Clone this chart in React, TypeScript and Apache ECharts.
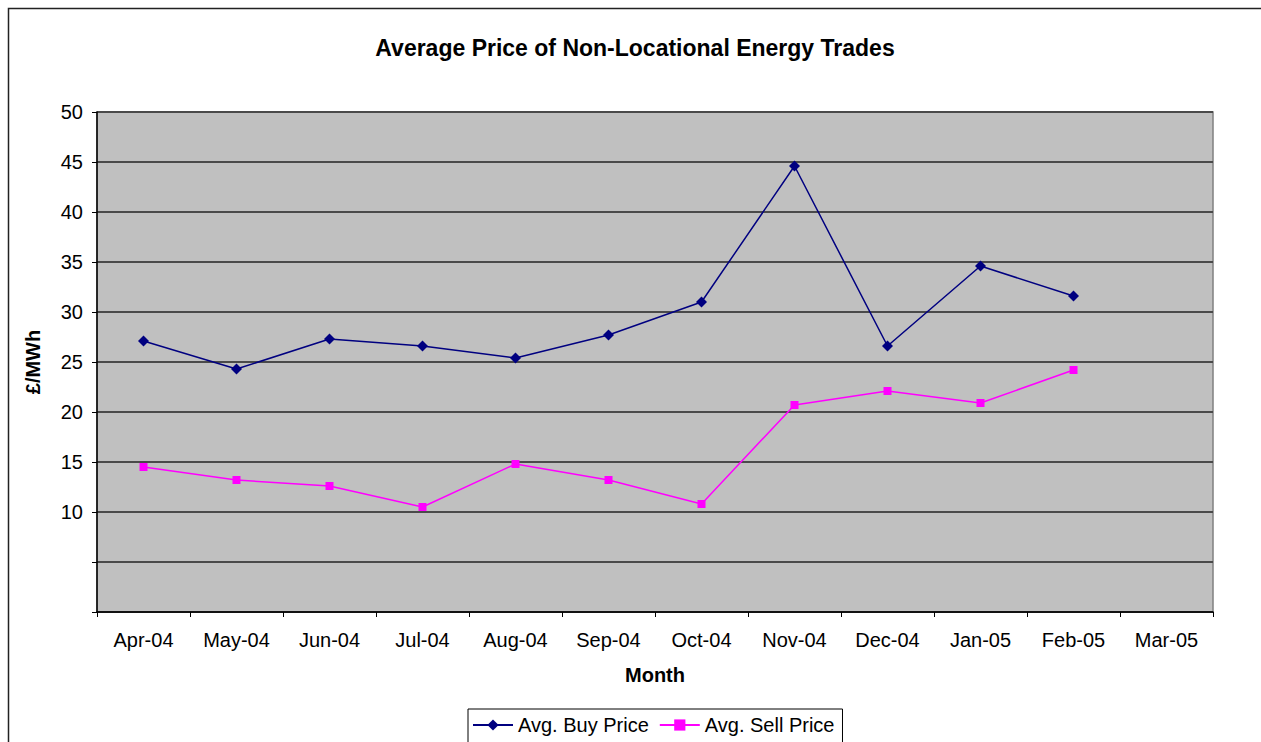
import React, { useEffect, useRef } from "react";
import * as echarts from "echarts";

const months = ["Apr-04", "May-04", "Jun-04", "Jul-04", "Aug-04", "Sep-04", "Oct-04", "Nov-04", "Dec-04", "Jan-05", "Feb-05", "Mar-05"];
const buyPrice = [27.1, 24.3, 27.3, 26.6, 25.4, 27.7, 31.0, 44.6, 26.6, 34.6, 31.6];
const sellPrice = [14.5, 13.2, 12.6, 10.5, 14.8, 13.2, 10.8, 20.7, 22.1, 20.9, 24.2];

export default function App() {
  const ref = useRef<HTMLDivElement>(null);
  useEffect(() => {
    document.body.style.margin = "0";
    document.body.style.overflow = "hidden";
    const chart = echarts.init(ref.current!, null, { renderer: "svg" });
    const font = "Arial, 'Liberation Sans', sans-serif";
    chart.setOption({
      animation: false,
      backgroundColor: "#ffffff",
      textStyle: { fontFamily: font },
      title: {
        text: "Average Price of Non-Locational Energy Trades",
        left: 630,
        textAlign: "center",
        top: 31,
        textStyle: { fontSize: 23, fontWeight: "bold", color: "#000", fontFamily: font },
      },
      graphic: [
        {
          type: "polyline",
          shape: { points: [[8.5, 742], [8.5, 8.5], [1261, 8.5]] },
          style: { fill: "none", stroke: "#222", lineWidth: 1.5 },
          silent: true,
          z: 100,
        },
      ],
      grid: {
        left: 97,
        top: 112,
        width: 1116,
        height: 500,
        show: true,
        backgroundColor: "#C0C0C0",
        borderColor: "#808080",
        borderWidth: 1.5,
      },
      legend: {
        top: 709,
        left: 468,
        orient: "horizontal",
        backgroundColor: "#fff",
        borderColor: "#000",
        borderWidth: 1,
        padding: [6, 8, 24, 4],
        itemGap: 10,
        itemWidth: 40,
        itemHeight: 14,
        textStyle: { fontSize: 20, color: "#000", fontFamily: font },
        data: ["Avg. Buy Price", "Avg. Sell Price"],
      },
      xAxis: {
        type: "category",
        data: months,
        boundaryGap: true,
        name: "Month",
        nameLocation: "middle",
        nameGap: 53,
        nameTextStyle: { fontSize: 20, fontWeight: "bold", color: "#000", fontFamily: font },
        axisLine: { lineStyle: { color: "#000", width: 1.5 } },
        axisTick: { show: true, length: 5, lineStyle: { color: "#000" } },
        axisLabel: { fontSize: 20, color: "#000", margin: 18, interval: 0, fontFamily: font },
        splitLine: { show: false },
      },
      yAxis: {
        type: "value",
        min: 0,
        max: 50,
        interval: 5,
        name: "£/MWh",
        nameLocation: "middle",
        nameGap: 54,
        nameTextStyle: { fontSize: 20, fontWeight: "bold", color: "#000", fontFamily: font },
        axisLine: { show: true, lineStyle: { color: "#000", width: 1.5 } },
        axisTick: { show: true, length: 5, lineStyle: { color: "#000" } },
        axisLabel: {
          fontSize: 20,
          color: "#000",
          margin: 14,
          fontFamily: font,
          formatter: (v: number) => (v >= 10 ? String(v) : ""),
        },
        splitLine: { show: true, lineStyle: { color: "#4a4a4a", width: 2 } },
      },
      series: [
        {
          name: "Avg. Buy Price",
          type: "line",
          data: buyPrice,
          symbol: "diamond",
          symbolSize: 11,
          lineStyle: { color: "#000080", width: 1.5 },
          itemStyle: { color: "#000080" },
        },
        {
          name: "Avg. Sell Price",
          type: "line",
          data: sellPrice,
          symbol: "rect",
          symbolSize: 8,
          lineStyle: { color: "#FF00FF", width: 1.5 },
          itemStyle: { color: "#FF00FF" },
        },
      ],
    });
    return () => chart.dispose();
  }, []);
  return <div ref={ref} style={{ width: 1261, height: 742 }} />;
}
